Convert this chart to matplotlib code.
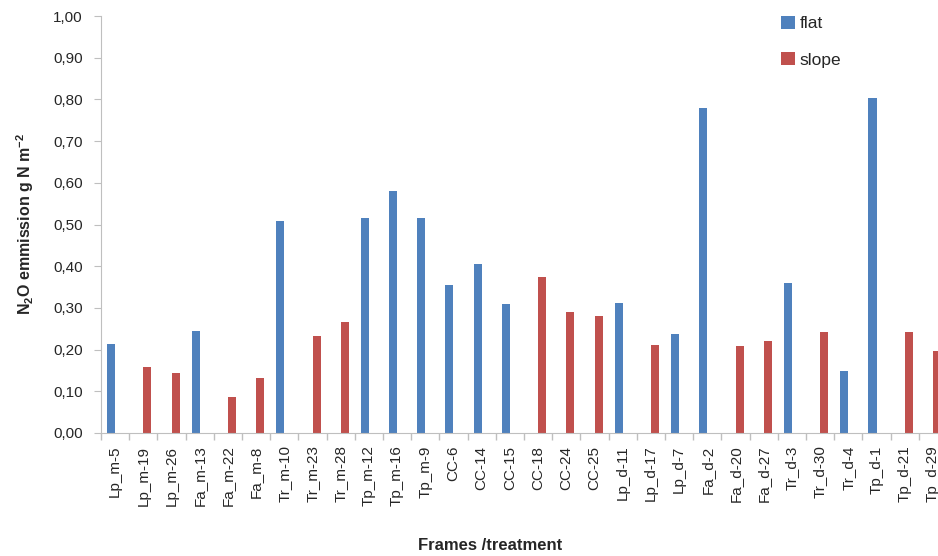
import numpy as np
import matplotlib
matplotlib.use("Agg")
import matplotlib.pyplot as plt
from matplotlib.ticker import FuncFormatter

plt.rcParams['font.family'] = ['Liberation Sans', 'DejaVu Sans']
plt.rcParams['mathtext.fontset'] = 'custom'
plt.rcParams['mathtext.rm'] = 'Liberation Sans:bold'
plt.rcParams['mathtext.bf'] = 'Liberation Sans:bold'

# frames / treatments along the x axis
frames = ['Lp_m-5', 'Lp_m-19', 'Lp_m-26', 'Fa_m-13', 'Fa_m-22', 'Fa_m-8',
          'Tr_m-10', 'Tr_m-23', 'Tr_m-28', 'Tp_m-12', 'Tp_m-16', 'Tp_m-9',
          'CC-6', 'CC-14', 'CC-15', 'CC-18', 'CC-24', 'CC-25',
          'Lp_d-11', 'Lp_d-17', 'Lp_d-7', 'Fa_d-2', 'Fa_d-20', 'Fa_d-27',
          'Tr_d-3', 'Tr_d-30', 'Tr_d-4', 'Tp_d-1', 'Tp_d-21', 'Tp_d-29']

nan = np.nan
# N2O emission, g N m-2 (flat frames)
flat = [0.213, nan, nan, 0.245, nan, nan,
        0.509, nan, nan, 0.515, 0.581, 0.515,
        0.356, 0.406, 0.309, nan, nan, nan,
        0.312, nan, 0.237, 0.779, nan, nan,
        0.359, nan, 0.149, 0.804, nan, nan]
# N2O emission, g N m-2 (slope frames)
slope = [nan, 0.159, 0.143, nan, 0.087, 0.131,
         nan, 0.233, 0.265, nan, nan, nan,
         nan, nan, nan, 0.373, 0.289, 0.281,
         nan, 0.211, nan, nan, 0.209, 0.221,
         nan, 0.242, nan, nan, 0.242, 0.197]

blue = '#4F81BD'
red = '#C0504D'
axis_grey = '#BFBFBF'
text_col = '#262626'

fig = plt.figure(figsize=(9.38, 5.56), dpi=100)
ax = fig.add_axes([101 / 938, 123 / 556, 30 * 28.2 / 938, 417 / 556])

x = np.arange(len(frames))
w = 0.284
ax.bar(x - w, flat, width=w, align='edge', color=blue, label='flat')
ax.bar(x, slope, width=w, align='edge', color=red, label='slope')

ax.set_xlim(-0.5, len(frames) - 0.5)
ax.set_ylim(0, 1.0)
ax.set_yticks(np.arange(0, 1.01, 0.1))
ax.yaxis.set_major_formatter(FuncFormatter(lambda v, p: f'{v:.2f}'.replace('.', ',')))

ax.set_xticks(x)
ax.set_xticklabels(frames, rotation=90, fontsize=11, color=text_col)
ax.set_xticks(np.arange(-0.5, len(frames), 1.0), minor=True)
ax.tick_params(axis='x', which='major', length=0, pad=9)
ax.tick_params(axis='x', which='minor', length=5, color=axis_grey, width=1)
ax.tick_params(axis='y', length=5, color=axis_grey, labelsize=11,
               labelcolor=text_col, pad=8)

for side in ['top', 'right']:
    ax.spines[side].set_visible(False)
for side in ['left', 'bottom']:
    ax.spines[side].set_color(axis_grey)

fig.text(25 / 938, 1 - 224 / 556, r'N$_{2}$O emmission g N m$^{-2}$',
         rotation=90, ha='center', va='center', fontsize=11.5,
         fontweight='bold', color=text_col)
fig.text(490 / 938, 1 - 545 / 556, 'Frames /treatment', ha='center',
         va='center', fontsize=12, fontweight='bold', color=text_col)

leg = ax.legend(loc='upper left', bbox_to_anchor=(765 / 938, 1.0),
                bbox_transform=fig.transFigure, frameon=False, fontsize=12.5,
                handlelength=0.8, handleheight=0.8, handletextpad=0.3,
                labelspacing=1.2)
for t in leg.get_texts():
    t.set_color(text_col)

fig.savefig('out.png', dpi=100)
